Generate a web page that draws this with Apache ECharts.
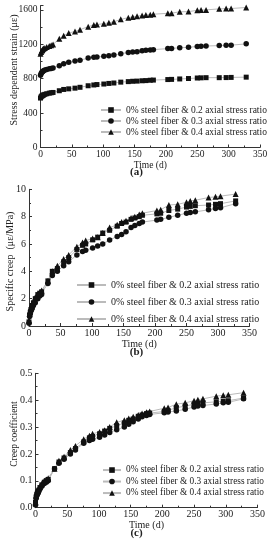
<!DOCTYPE html>
<html>
<head>
<meta charset="utf-8">
<script src="https://cdn.jsdelivr.net/npm/echarts@6/dist/echarts.min.js"></script>
<style>html,body{margin:0;padding:0;background:#fff;}#c{width:273px;height:550px;}</style>
</head>
<body>
<div id="c"></div>
<script>
// Time (d)
var time = [0,1,2,3,4,5,7,10,14,17,20,30,37,45,55,63,76,85,90,101,109,117,128,140,147,154,162,168,175,180,203,209,222,236,250,256,264,285,296,304,328];
var seriesNames = ['0% steel fiber & 0.2 axial stress ratio','0% steel fiber & 0.3 axial stress ratio','0% steel fiber & 0.4 axial stress ratio'];
var yNames = ['Stress dependent strain (με)', 'Specific creep  (με/MPa)', 'Creep coefficient'];
var captions = ['(a)', '(b)', '(c)'];
// (a) Stress dependent strain (με)
var strain02 = [575,590,598,603,607,612,618,625,632,636,640,660,675,682,690,700,718,727,732,738,745,750,760,766,770,772,776,778,782,784,790,792,797,802,808,810,812,812,813,815,818];
var strain03 = [840,860,872,880,888,893,900,908,915,920,925,952,975,990,1005,1015,1040,1050,1053,1060,1068,1075,1090,1105,1110,1113,1125,1130,1135,1138,1150,1152,1160,1165,1175,1178,1180,1185,1188,1190,1205];
var strain04 = [1090,1110,1125,1135,1145,1150,1158,1168,1180,1190,1198,1265,1300,1330,1350,1370,1405,1425,1430,1440,1450,1462,1490,1510,1518,1525,1535,1540,1545,1550,1560,1562,1578,1580,1595,1598,1600,1612,1615,1616,1628];
// (b) Specific creep (με/MPa)
var creep02 = [0.3,0.8,1.0,1.2,1.3,1.5,1.7,2.0,2.3,2.4,2.5,3.3,4.0,4.2,4.7,5.0,5.6,5.9,6.0,6.3,6.5,6.8,7.0,7.3,7.5,7.6,7.8,7.9,8.0,8.1,8.2,8.25,8.45,8.55,8.7,8.75,8.8,8.85,8.9,8.95,9.15];
var creep03 = [0.2,0.7,0.9,1.1,1.2,1.3,1.5,1.7,2.0,2.2,2.3,3.1,3.7,4.0,4.4,4.7,5.2,5.45,5.55,5.7,5.85,6.0,6.3,6.55,6.7,6.9,7.2,7.35,7.5,7.6,7.75,7.8,7.95,8.1,8.25,8.3,8.35,8.5,8.6,8.65,8.95];
var creep04 = [0.4,0.9,1.1,1.3,1.4,1.6,1.8,2.1,2.3,2.4,2.6,3.3,4.0,4.4,4.9,5.2,5.8,6.1,6.25,6.4,6.5,6.8,7.2,7.4,7.6,7.7,7.9,8.0,8.15,8.25,8.45,8.5,8.85,8.9,9.05,9.15,9.2,9.4,9.45,9.5,9.65];
// (c) Creep coefficient
var coef02 = [0.02,0.04,0.05,0.055,0.06,0.065,0.075,0.085,0.095,0.1,0.105,0.145,0.17,0.185,0.205,0.22,0.245,0.26,0.265,0.275,0.285,0.295,0.305,0.315,0.325,0.33,0.34,0.345,0.35,0.352,0.358,0.362,0.372,0.378,0.385,0.388,0.39,0.394,0.396,0.398,0.408];
var coef03 = [0.01,0.035,0.045,0.05,0.055,0.06,0.07,0.08,0.09,0.095,0.1,0.145,0.165,0.18,0.2,0.215,0.24,0.25,0.255,0.262,0.27,0.28,0.29,0.3,0.31,0.32,0.33,0.338,0.343,0.347,0.353,0.356,0.36,0.366,0.375,0.378,0.38,0.386,0.39,0.392,0.405];
var coef04 = [0.02,0.045,0.055,0.06,0.065,0.07,0.078,0.09,0.1,0.105,0.11,0.145,0.175,0.19,0.215,0.23,0.255,0.268,0.275,0.282,0.288,0.3,0.318,0.325,0.332,0.338,0.345,0.35,0.355,0.358,0.37,0.373,0.385,0.39,0.398,0.402,0.405,0.415,0.418,0.42,0.428];

var FONT = '"Liberation Serif","Times New Roman",serif';
var TXT = '#222';
function pairs(ys){ return time.map(function(t,i){ return [t, ys[i]]; }); }
var symbols = ['rect','circle','triangle'];
var symSizes = [5,5.5,6];

function xAxis(gi, fs, gap){
  return {
    type:'value', gridIndex:gi, min:0, max:350, interval:50,
    name:'Time (d)', nameLocation:'middle', nameGap:gap,
    nameTextStyle:{fontFamily:FONT, fontSize:fs, color:TXT},
    axisLine:{lineStyle:{color:'#333', width:1}},
    axisTick:{inside:true, length:3, lineStyle:{color:'#333'}},
    minorTick:{show:true, splitNumber:2, length:2, lineStyle:{color:'#333'}},
    axisLabel:{fontFamily:FONT, fontSize:fs, color:TXT, margin:2},
    splitLine:{show:false}
  };
}
function yAxis(gi, o){
  return {
    type:'value', gridIndex:gi, min:0, max:o.max, interval:o.interval,
    axisLine:{show:true, lineStyle:{color:'#333', width:1}},
    axisTick:{show:true, inside:true, length:3, lineStyle:{color:'#333'}},
    minorTick:{show:true, splitNumber:2, length:2, lineStyle:{color:'#333'}},
    axisLabel:{fontFamily:FONT, fontSize:o.fs, color:TXT, margin:3, showMaxLabel:o.showMax, formatter:o.fmt},
    splitLine:{show:false}
  };
}
function mkSeries(gi, arrs){
  return arrs.map(function(ys, k){
    return {
      type:'line', name:seriesNames[k], xAxisIndex:gi, yAxisIndex:gi,
      data:pairs(ys), symbol:symbols[k], symbolSize:symSizes[k],
      itemStyle:{color:'#111'}, lineStyle:{color:'#bbb', width:1},
      showAllSymbol:true, animation:false
    };
  });
}
function legend(left, top, pitch, iw, fs){
  return {
    orient:'vertical', left:left, top:top, itemWidth:iw, itemHeight:7, itemGap:0,
    data:seriesNames.slice(),
    textStyle:{fontFamily:FONT, fontSize:fs, color:TXT, lineHeight:pitch, height:pitch},
    selectedMode:false
  };
}
function yName(i, x, y, fs){
  return {type:'text', x:x, y:y, rotation:Math.PI/2,
    style:{text:yNames[i], font:fs+'px '+FONT, fill:TXT, textAlign:'center', textVerticalAlign:'middle'}};
}
function caption(i, top){
  return {type:'text', left:'center', top:top, style:{text:captions[i], font:'bold 11px '+FONT, fill:TXT}};
}

var option = {
  backgroundColor:'#fff',
  animation:false,
  grid:[
    {left:40.5, right:13, top:5.6, bottom:402.5},
    {left:29, right:23.5, top:189.3, bottom:224},
    {left:35.5, right:15.5, top:373.3, bottom:42.3}
  ],
  xAxis:[ xAxis(0, 9.5, 9.5), xAxis(1, 10, 13), xAxis(2, 10, 12.5) ],
  yAxis:[
    yAxis(0, {max:1650, interval:400, fs:9.5, showMax:false, fmt:function(v){return v%400===0?String(v):'';}}),
    yAxis(1, {max:10, interval:2, fs:10, showMax:true, fmt:function(v){return String(v);}}),
    yAxis(2, {max:0.5, interval:0.1, fs:10, showMax:true, fmt:function(v){return v.toFixed(1);}})
  ],
  legend:[
    legend(95, 99.5, 11, 20, 9.5),
    legend(71, 271.5, 17, 29, 10),
    legend(97, 459.3, 11.5, 18, 9.3)
  ],
  graphic:[
    yName(0, 14, 70, 10),
    yName(1, 10, 261.5, 10),
    yName(2, 14, 434, 9.5),
    caption(0, 166.5),
    caption(1, 347),
    caption(2, 528)
  ],
  series: [].concat(
    mkSeries(0, [strain02, strain03, strain04]),
    mkSeries(1, [creep02, creep03, creep04]),
    mkSeries(2, [coef02, coef03, coef04])
  )
};
var chart = echarts.init(document.getElementById('c'), null, {renderer:'canvas'});
chart.setOption(option);
</script>
</body>
</html>
